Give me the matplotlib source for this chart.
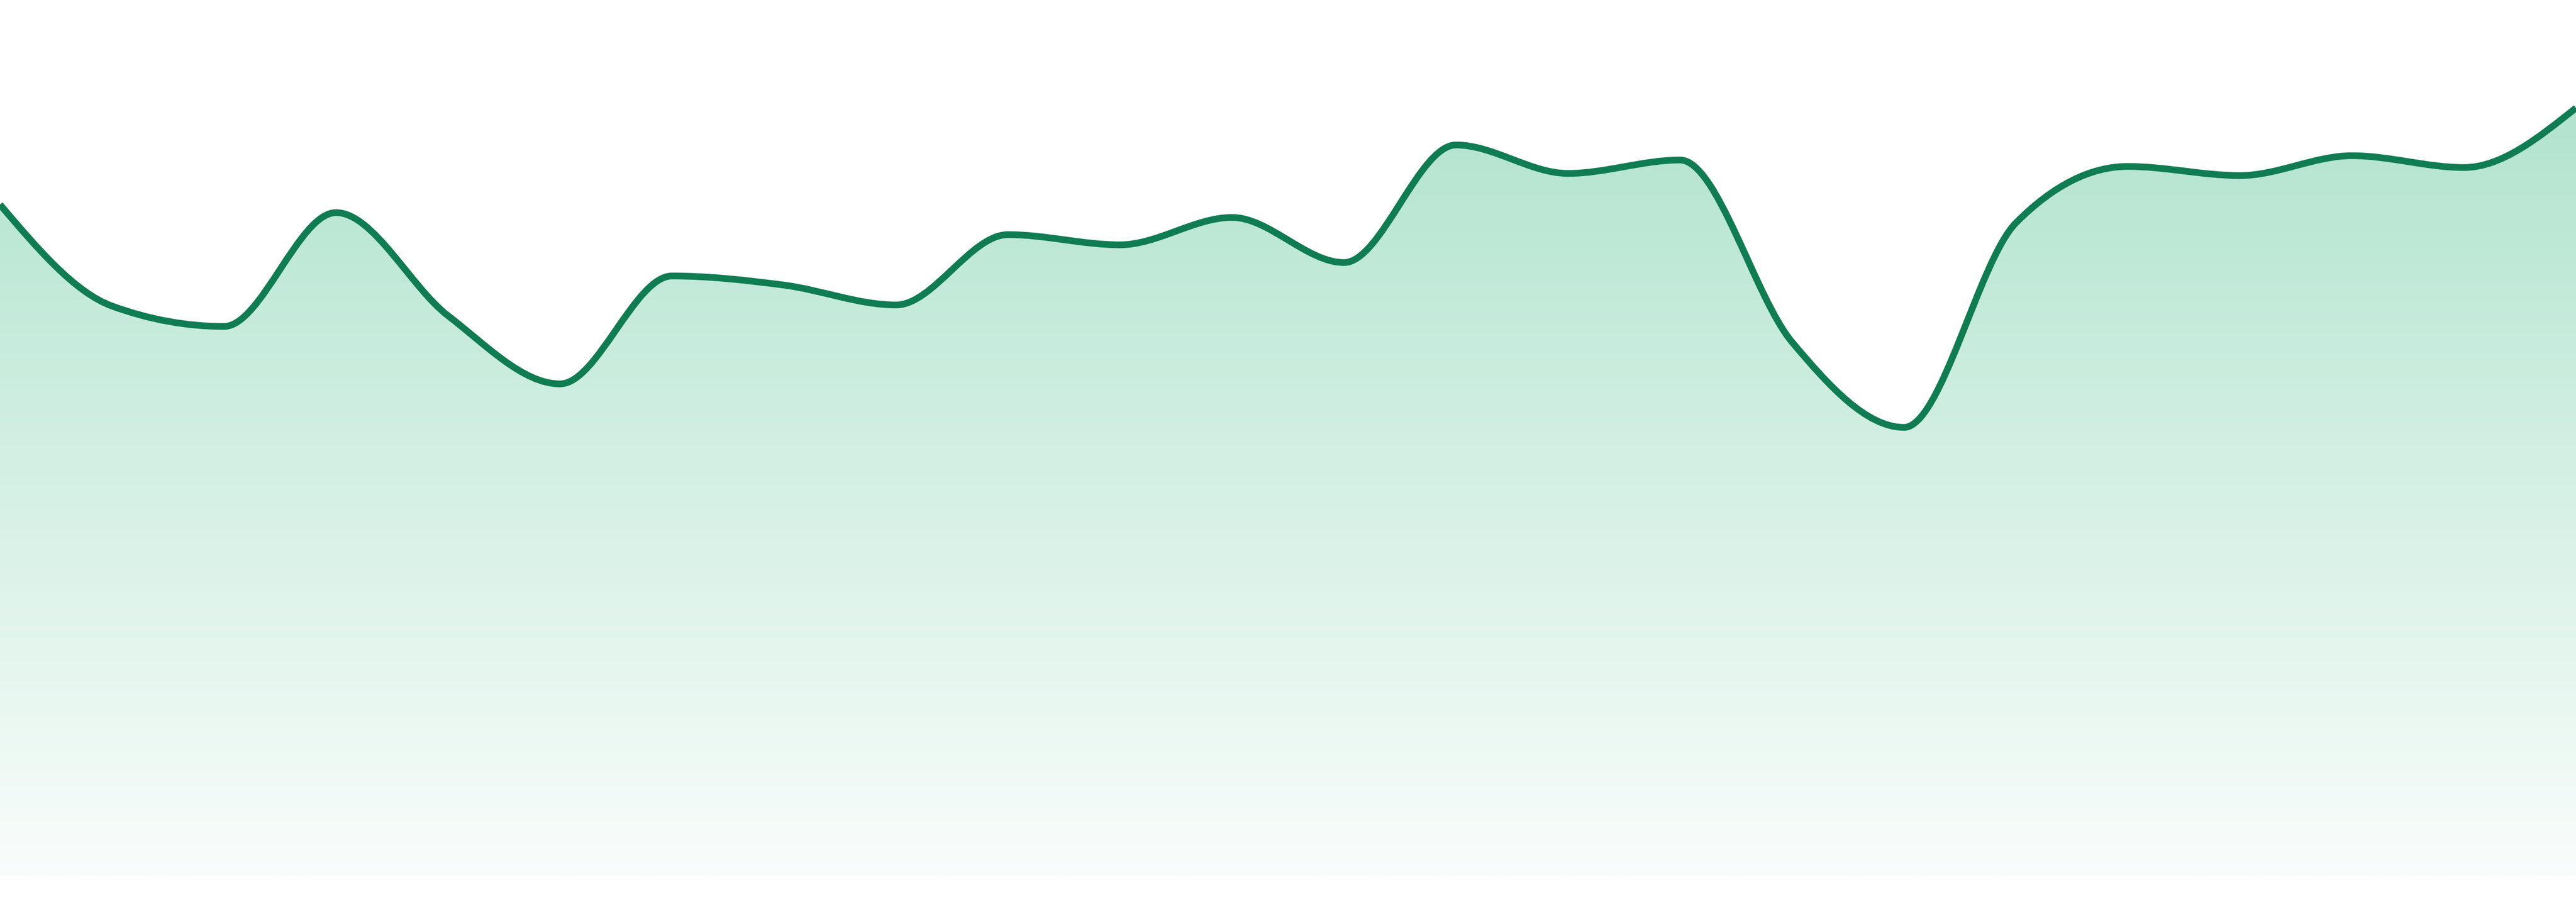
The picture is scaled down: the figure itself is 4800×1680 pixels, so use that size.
import numpy as np
import matplotlib
matplotlib.use("Agg")
import matplotlib.pyplot as plt
from matplotlib.path import Path
from matplotlib.patches import PathPatch

# ---- data ----
points = list(range(24))
values = [125.1, 106.2, 102.4, 123.6, 104.4, 91.7, 111.8, 110.1, 106.4, 119.5,
          117.6, 122.7, 114.3, 136.2, 130.9, 133.4, 99.5, 83.6, 121.7, 132.2,
          130.5, 134.2, 132.0, 143.1]

line_color = "#107C52"
fill_top = (178, 228, 207)
fill_bottom = (249, 253, 251)


def monotone_path(xs, ys):
    """Cubic Bezier path following d3.curveMonotoneX."""
    xs = np.asarray(xs, float)
    ys = np.asarray(ys, float)
    n = len(xs)
    h = np.diff(xs)
    s = np.diff(ys) / h
    t = np.zeros(n)
    for i in range(1, n - 1):
        p = (s[i - 1] * h[i] + s[i] * h[i - 1]) / (h[i - 1] + h[i])
        t[i] = (np.sign(s[i - 1]) + np.sign(s[i])) * min(abs(s[i - 1]), abs(s[i]), 0.5 * abs(p))
    t[0] = (3 * s[0] - t[1]) / 2
    t[-1] = (3 * s[-1] - t[-2]) / 2
    verts = [(xs[0], ys[0])]
    codes = [Path.MOVETO]
    for i in range(n - 1):
        dx = h[i] / 3
        verts += [(xs[i] + dx, ys[i] + dx * t[i]),
                  (xs[i + 1] - dx, ys[i + 1] - dx * t[i + 1]),
                  (xs[i + 1], ys[i + 1])]
        codes += [Path.CURVE4] * 3
    return verts, codes


fig = plt.figure(figsize=(24, 8.4), dpi=200)
ax = fig.add_axes([0, 0, 1, 1])
ax.set_xlim(points[0], points[-1])
ax.set_ylim(-4.8, 163.2)
ax.axis("off")

verts, codes = monotone_path(points, values)

# area (closed) path for clipping the gradient
area_verts = verts + [(points[-1], 0), (points[0], 0), (points[0], values[0])]
area_codes = codes + [Path.LINETO, Path.LINETO, Path.CLOSEPOLY]
area_patch = PathPatch(Path(area_verts, area_codes), facecolor="none", edgecolor="none")
ax.add_patch(area_patch)

top_v = max(values)
nrows = 512
frac = np.linspace(0, 1, nrows)[:, None]
c0 = np.array(fill_top) / 255.0
c1 = np.array(fill_bottom) / 255.0
grad = (c0[None, :] * (1 - frac) + c1[None, :] * frac)[:, None, :]
im = ax.imshow(grad, extent=(points[0], points[-1], 0, top_v), origin="upper",
               aspect="auto", interpolation="bilinear", zorder=1)
im.set_clip_path(area_patch)

line_patch = PathPatch(Path(verts, codes), facecolor="none", edgecolor=line_color,
                       linewidth=4.5, joinstyle="round", capstyle="butt", zorder=3)
ax.add_patch(line_patch)

fig.savefig("out.png", dpi=200, facecolor="white")
